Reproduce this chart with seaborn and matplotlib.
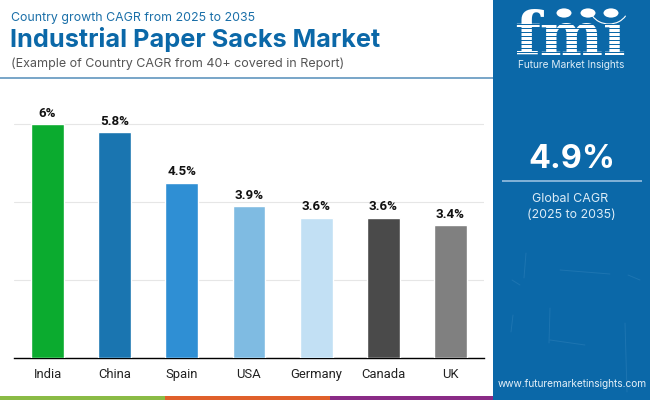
import matplotlib
matplotlib.use("Agg")
import matplotlib.pyplot as plt
from matplotlib.patches import Rectangle, Circle, Arc
import pandas as pd
import seaborn as sns

countries = ["India", "China", "Spain", "USA", "Germany", "Canada", "UK"]
cagr = [6.0, 5.8, 4.5, 3.9, 3.6, 3.6, 3.4]
cagr_labels = ["6%", "5.8%", "4.5%", "3.9%", "3.6%", "3.6%", "3.4%"]
bar_colors = ["#0bab2f", "#1a75b0", "#2f8fd4", "#7fbbe2", "#c2e0f4", "#4a4a4a", "#808080"]
y_ticks = [0, 2, 4, 6]

PANEL = "#0b68a8"
W, H = 650, 400

sns.set_theme(style="white")
plt.rcParams["font.family"] = ["Inter", "DejaVu Sans"]

fig = plt.figure(figsize=(6.5, 4.0), dpi=100, facecolor="white")


def px_text(x, y, s, **kw):
    # place text using pixel coordinates measured from the top left
    return fig.text(x / W, 1 - y / H, s, **kw)


def px_rect(x0, y0, x1, y1, color, zorder=0):
    fig.add_artist(Rectangle((x0 / W, 1 - y1 / H), (x1 - x0) / W, (y1 - y0) / H,
                             transform=fig.transFigure, color=color, lw=0, zorder=zorder))


# header, footer strip and right panel
px_rect(0, 77, 493, 79, "#7ba7c9")
px_rect(0, 396, 165, 400, "#8abb45")
px_rect(165, 396, 330, 400, "#e0602b")
px_rect(330, 396, 493, 400, "#8a2b86")
px_rect(493, 0, 650, 400, PANEL)

px_text(11, 18.5, "Country growth CAGR from 2025 to 2035", color="#1a6fa8", fontsize=8.9, va="center")
px_text(10, 40, "Industrial Paper Sacks Market", color="#0b68a8", fontsize=18.2,
        fontweight="bold", va="center")
px_text(11, 63.5, "(Example of Country CAGR from 40+ covered in Report)", color="#555555",
        fontsize=9.0, va="center")

# chart
ax = fig.add_axes([14 / W, 1 - 358 / H, 470 / W, 273 / H])
df = pd.DataFrame({"country": countries, "cagr": cagr})
sns.barplot(data=df, x="country", y="cagr", hue="country", palette=bar_colors,
            width=0.49, saturation=1, legend=False, ax=ax, zorder=3)
for cont, lab in zip(ax.containers, cagr_labels):
    ax.bar_label(cont, labels=[lab], padding=3, fontsize=9.6, fontweight="bold",
                 color="#111111", family=["Roboto", "DejaVu Sans"])
ax.set_xlim(-0.5, 6.5)
ax.set_ylim(0, 7)
ax.set_yticks(y_ticks)
ax.set_yticklabels([])
ax.set_xlabel("")
ax.set_ylabel("")
ax.grid(True, axis="y", color="#e6e6e6", lw=0.8)
ax.set_axisbelow(True)
ax.tick_params(axis="x", length=0, pad=12, labelcolor="#222222")
ax.tick_params(axis="y", length=0)
sns.despine(ax=ax, left=True)
ax.spines["bottom"].set_color("black")
ax.spines["bottom"].set_linewidth(1.0)
for t in ax.get_xticklabels():
    t.set_fontfamily(["Roboto", "DejaVu Sans"])
    t.set_fontsize(9.4)
    t.set_va("center")

# faint texture on the panel
for x0, y0, x1, y1 in [(526, 253, 524, 278), (550, 308, 549, 343), (550, 340, 585, 345),
                       (625, 323, 627, 392), (628, 275, 640, 280), (512, 280, 520, 285),
                       (513, 315, 511, 332), (560, 270, 610, 274)]:
    fig.add_artist(plt.Line2D([x0 / W, x1 / W], [1 - y0 / H, 1 - y1 / H],
                              color="#3f8cc2", lw=0.7, alpha=0.35))

# logo
px_text(570, 55, "fm\u0131", color="white", fontsize=43, fontweight="bold", ha="center", va="baseline",
        family=["DejaVu Serif"])
for y in range(24, 56, 4):
    px_rect(515, y, 630, y + 1, PANEL, zorder=5)
for cx, cy in [(564, 13), (588, 13), (611, 13)]:
    fig.add_artist(Circle((cx / W, 1 - cy / H), 7.5 / W, transform=fig.transFigure,
                          color="white", lw=0, zorder=6))
ax_logo = fig.add_axes([0, 0, 1, 1], facecolor="none")
ax_logo.set_xlim(0, W)
ax_logo.set_ylim(H, 0)
ax_logo.axis("off")
ax_logo.add_patch(Arc((609, 8), 38, 32, theta1=25, theta2=155, color="white", lw=0.8))
px_text(571.5, 64.5, "Future Market Insights", color="#dcecf7", fontsize=7.3, ha="center", va="center")

# global figure
px_text(571.5, 159, "4.9%", color="white", fontsize=23.4, fontweight="bold", ha="center", va="center")
px_rect(502, 180, 642, 182, "#7fb0d6")
px_text(570, 198.5, "Global CAGR", color="#dcecf7", fontsize=9.0, ha="center", va="center")
px_text(571, 214.5, "(2025 to 2035)", color="#dcecf7", fontsize=8.9, ha="center", va="center")
px_text(572, 384, "www.futuremarketinsights.com", color="#e6f1f9", fontsize=7.3, ha="center", va="center")

fig.savefig("out.png", dpi=100)
